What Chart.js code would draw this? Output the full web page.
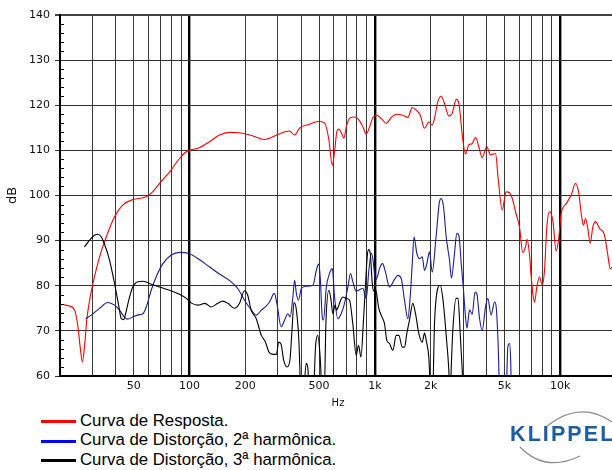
<!DOCTYPE html>
<html>
<head>
<meta charset="utf-8">
<script src="https://cdn.jsdelivr.net/npm/chart.js@4.4.1/dist/chart.umd.min.js"></script>
<style>
  html, body { margin: 0; padding: 0; overflow: hidden; background: #fff; }
  #wrap { position: relative; width: 612px; height: 470px; overflow: hidden; }
  #c { position: absolute; left: 0; top: 0; }
  .lg-line { position: absolute; left: 41px; width: 35px; height: 3px; }
  .lg-text { position: absolute; left: 80px; font-family: "Liberation Sans", Arial, sans-serif; font-size: 16.8px; line-height: 16.5px; color: #000; white-space: nowrap; }
  #logo { position: absolute; left: 510px; top: 424px; font-family: "Liberation Sans", Arial, sans-serif; font-weight: bold; font-size: 21.5px; line-height: 21px; letter-spacing: 2.1px; color: #1f5c9e; white-space: nowrap; }
  #arcs { position: absolute; left: 500px; top: 400px; }
</style>
</head>
<body>
<div id="wrap">
  <canvas id="c" width="620" height="410"></canvas>
  <div class="lg-line" style="top:420px;background:#ff0000"></div>
  <div class="lg-text" style="top:412.5px">Curva de Resposta.</div>
  <div class="lg-line" style="top:439.5px;background:#0000ff"></div>
  <div class="lg-text" style="top:432px">Curva de Distorção, 2ª harmônica.</div>
  <div class="lg-line" style="top:459px;background:#000"></div>
  <div class="lg-text" style="top:451.5px">Curva de Distorção, 3ª harmônica.</div>
  <svg id="arcs" width="112" height="70">
    <path d="M 47 26 Q 80 0 112 22" fill="none" stroke="#8c8c8c" stroke-width="1.2"/>
    <path d="M 20 47 Q 45 73 80 56" fill="none" stroke="#8c8c8c" stroke-width="1.2"/>
  </svg>
  <div id="logo">KLIPPEL</div>
</div>
<script>
// ---- data (Hz, dB) ----
const redHz = [20, 21.4, 22.5, 24.0, 25.0, 25.7, 26.4, 27.1, 27.9, 28.9, 30.7, 32.7, 35.5, 39.4, 43.7, 49.4, 58.4, 63.2, 68.9, 78.0, 88.3, 96.0, 100, 113, 128, 145, 164, 186, 211, 234, 254, 270, 300, 346, 369, 392, 444, 492, 535, 565, 589, 606, 623, 639, 661, 680, 701, 730, 777, 826, 868, 898, 936, 975, 1025, 1082, 1151, 1225, 1304, 1415, 1506, 1591, 1672, 1757, 1853, 1954, 2039, 2098, 2186, 2280, 2375, 2506, 2615, 2748, 2838, 2982, 3083, 3212, 3352, 3491, 3637, 3794, 4017, 4207, 4478, 4620, 4864, 5110, 5325, 5548, 5739, 6031, 6283, 6497, 6636, 6829, 6975, 7115, 7267, 7478, 7733, 7996, 8228, 8466, 8756, 9121, 9513, 9788, 10122, 10772, 11463, 12093, 12598, 12981, 13357, 13694, 14090, 14517, 14993, 15505, 16293, 17338, 18065, 18614, 18916, 19500];
const redDb = [75.9, 75.7, 75.5, 74.6, 70.9, 66.4, 63.1, 66.4, 72.4, 76.8, 82.0, 86.4, 90.8, 95.3, 97.9, 99.1, 99.7, 100.8, 102.7, 105.2, 108.2, 109.7, 110.0, 110.6, 111.9, 113.4, 114.0, 113.9, 113.4, 112.8, 112.4, 112.7, 113.5, 114.3, 113.4, 114.9, 115.8, 116.4, 116.1, 112.3, 106.7, 109.7, 114.1, 114.7, 113.8, 112.7, 115.2, 117.1, 117.4, 116.6, 114.9, 113.6, 115.2, 117.3, 117.8, 117.1, 116.0, 117.3, 118.0, 117.8, 117.3, 119.5, 118.9, 117.8, 114.9, 116.3, 115.6, 117.1, 120.8, 122.0, 120.4, 117.6, 118.2, 121.3, 120.4, 112.3, 109.2, 111.2, 111.5, 112.9, 110.8, 108.4, 110.8, 109.0, 109.3, 104.0, 96.8, 100.8, 100.6, 99.0, 96.4, 93.0, 87.3, 88.6, 90.3, 86.8, 82.0, 78.3, 76.4, 79.7, 82.0, 80.1, 83.4, 93.0, 96.4, 94.5, 87.7, 90.1, 96.0, 98.2, 100.1, 102.7, 100.5, 96.0, 93.4, 94.9, 92.7, 89.4, 93.0, 94.2, 92.7, 91.2, 86.8, 83.8, 84.0, 84.3];

const blueHz = [27.5, 29.5, 32.7, 36.2, 39.4, 41.9, 44.6, 46.5, 49.4, 53.7, 56.0, 58.4, 62.1, 66.1, 71.8, 79.7, 88.3, 100, 113, 128, 145, 164, 182, 198, 215, 229, 244, 259, 270, 287, 296, 312, 326, 339, 349, 361, 369, 377, 387, 401, 426, 463, 483, 497, 507, 520, 528, 547, 569, 589, 606, 631, 658, 686, 715, 739, 760, 793, 861, 898, 928, 956, 975, 1008, 1037, 1059, 1100, 1141, 1199, 1276, 1330, 1387, 1445, 1506, 1551, 1591, 1627, 1684, 1742, 1801, 1853, 1907, 1972, 2039, 2143, 2233, 2280, 2346, 2426, 2527, 2591, 2690, 2768, 2838, 2924, 3008, 3083, 3141, 3240, 3352, 3470, 3548, 3669, 3794, 3954, 4069, 4234, 4422, 4515, 4617, 4733, 5099, 5214, 5325, 5405, 5459];
const blueDb = [72.7, 73.5, 75.0, 76.3, 75.7, 74.6, 73.0, 72.6, 73.1, 73.6, 73.8, 75.3, 79.0, 82.0, 84.9, 86.8, 87.4, 87.1, 85.8, 84.2, 82.6, 81.2, 79.4, 76.8, 74.7, 73.5, 74.6, 75.5, 76.4, 78.3, 76.1, 70.9, 72.4, 73.8, 73.1, 77.5, 81.2, 78.3, 76.8, 79.4, 79.9, 80.1, 83.4, 84.8, 82.0, 73.1, 72.4, 79.7, 82.7, 83.8, 77.5, 72.7, 73.8, 76.1, 79.7, 82.7, 80.9, 78.8, 79.4, 77.2, 83.4, 87.2, 86.0, 81.2, 82.3, 83.8, 84.9, 83.0, 79.7, 81.4, 82.3, 81.6, 76.8, 72.7, 77.5, 84.9, 90.8, 87.2, 86.0, 86.4, 83.4, 84.9, 87.5, 83.0, 91.2, 98.7, 99.3, 97.5, 90.8, 85.7, 81.7, 87.2, 91.6, 91.2, 84.9, 79.0, 73.1, 70.6, 74.6, 73.7, 78.6, 78.3, 72.8, 70.1, 75.3, 77.2, 73.5, 76.4, 75.3, 67.9, 55, 55, 66.4, 67.2, 63.5, 55];

const blackHz = [27.1, 28.9, 30.7, 32.0, 33.4, 35.2, 37.0, 39.4, 41.6, 42.8, 44.1, 45.2, 47.0, 49.4, 52.6, 56.0, 60.8, 68.9, 78.0, 88.3, 96.0, 102, 111, 121, 131, 142, 151, 161, 175, 186, 198, 206, 215, 229, 244, 257, 268, 282, 294, 303, 312, 322, 336, 348, 357, 366, 376, 389, 400, 410, 426, 435, 444, 464, 479, 492, 506, 522, 532, 545, 565, 580, 593, 610, 621, 637, 653, 672, 701, 730, 760, 793, 816, 841, 868, 890, 909, 924, 944, 968, 983, 1008, 1050, 1095, 1127, 1160, 1199, 1250, 1304, 1347, 1405, 1445, 1487, 1538, 1602, 1657, 1727, 1801, 1853, 1892, 1954, 2009, 2046, 2098, 2186, 2252, 2326, 2426, 2506, 2544, 2591, 2634, 2741, 2810, 2887, 2960, 3008];
const blackDb = [88.6, 90.1, 91.2, 91.4, 90.8, 88.6, 85.7, 80.5, 75.3, 72.7, 72.5, 73.8, 76.8, 79.7, 80.9, 81.0, 80.5, 79.7, 79.0, 78.1, 77.2, 76.2, 75.7, 76.1, 75.3, 76.1, 76.6, 76.1, 75.0, 76.1, 78.9, 77.9, 74.6, 72.7, 69.0, 67.5, 65.3, 64.8, 64.8, 67.5, 67.0, 63.5, 62.0, 63.5, 70.1, 76.3, 75.0, 67.9, 55, 55, 62.8, 61.7, 55, 55, 66.8, 69.0, 64.6, 55, 55, 72.4, 79.0, 76.8, 73.8, 75.7, 74.6, 75.5, 76.8, 77.5, 77.2, 76.8, 71.6, 64.6, 66.8, 64.2, 72.4, 80.1, 86.4, 88.0, 87.2, 80.6, 78.8, 79.2, 75.0, 73.0, 71.6, 67.9, 67.2, 65.7, 69.0, 69.0, 66.4, 66.4, 69.4, 72.4, 76.1, 73.8, 69.4, 67.5, 69.5, 67.9, 64.2, 55, 55, 71.7, 79.5, 80.1, 77.2, 69.0, 61.3, 55, 63.5, 70.1, 77.2, 77.2, 69.4, 61.3, 55];

// ---- axes ----
const gridHz = [20, 30, 40, 50, 60, 70, 80, 90, 100, 200, 300, 400, 500, 600, 700, 800, 900, 1000, 2000, 3000, 4000, 5000, 6000, 7000, 8000, 9000, 10000, 20000];
const decadeHz = [100, 1000, 10000];
const xTickValues = [50, 100, 200, 500, 1000, 2000, 5000, 10000];
const xTickLabels = ['50', '100', '200', '500', '1k', '2k', '5k', '10k'];
const yTickValues = [60, 70, 80, 90, 100, 110, 120, 130, 140];

const pts = (xs, ys) => xs.map((x, i) => ({ x: x, y: ys[i] }));

const minorTicks = {
  id: 'minorTicks',
  afterDraw(chart) {
    const { ctx, scales: { y }, chartArea } = chart;
    ctx.save();
    ctx.strokeStyle = '#000';
    ctx.lineWidth = 1;
    for (let v = 62; v < 140; v += 2) {
      if (v % 10 === 0) continue;
      const py = Math.round(y.getPixelForValue(v)) + 0.5;
      ctx.beginPath();
      ctx.moveTo(chartArea.left, py);
      ctx.lineTo(chartArea.left + 4, py);
      ctx.stroke();
    }
    ctx.restore();
  }
};

const tickFont = { family: '"DejaVu Sans", sans-serif', size: 11 };

new Chart(document.getElementById('c'), {
  type: 'line',
  data: {
    datasets: [
      { label: 'Curva de Distorção, 3ª harmônica.', data: pts(blackHz, blackDb), borderColor: '#000000', borderWidth: 1.1, pointRadius: 0, cubicInterpolationMode: 'monotone', fill: false },
      { label: 'Curva de Distorção, 2ª harmônica.', data: pts(blueHz, blueDb), borderColor: '#1c1c9a', borderWidth: 1.1, pointRadius: 0, cubicInterpolationMode: 'monotone', fill: false },
      { label: 'Curva de Resposta.', data: pts(redHz, redDb), borderColor: '#ff0000', borderWidth: 1.1, pointRadius: 0, cubicInterpolationMode: 'monotone', fill: false }
    ]
  },
  options: {
    responsive: false,
    animation: false,
    events: [],
    layout: { padding: { top: 15, right: 4, bottom: 0, left: 0 } },
    plugins: { legend: { display: false }, tooltip: { enabled: false } },
    scales: {
      x: {
        type: 'logarithmic',
        min: 20,
        max: 20000,
        afterBuildTicks: (scale) => { scale.ticks = gridHz.map(v => ({ value: v })); },
        afterFit: (scale) => { scale.height = 34; },
        ticks: {
          autoSkip: false, maxRotation: 0, minRotation: 0, padding: 4,
          color: '#111', font: tickFont,
          callback: (v) => { const i = xTickValues.indexOf(v); return i >= 0 ? xTickLabels[i] : ''; }
        },
        grid: {
          drawTicks: false,
          color: (ctx) => (ctx.tick && decadeHz.includes(ctx.tick.value)) ? '#000' : '#3a3a3a',
          lineWidth: (ctx) => (ctx.tick && decadeHz.includes(ctx.tick.value)) ? 2.4 : 1
        },
        border: { display: true, color: '#000', width: 2 },
        title: { display: true, text: 'Hz', color: '#111', font: { family: '"DejaVu Sans", sans-serif', size: 10 }, padding: { top: 0, bottom: 1 } }
      },
      y: {
        min: 60,
        max: 140,
        afterBuildTicks: (scale) => { scale.ticks = yTickValues.map(v => ({ value: v })); },
        afterFit: (scale) => { scale.width = 60; },
        ticks: { padding: 5, color: '#111', font: tickFont },
        grid: {
          tickLength: 5,
          color: (ctx) => (ctx.tick && ctx.tick.value === 140) ? '#444' : '#333',
          lineWidth: (ctx) => (ctx.tick && ctx.tick.value === 140) ? 2 : 1
        },
        border: { display: true, color: '#000', width: 2 },
        title: { display: true, text: 'dB', color: '#111', font: { family: '"DejaVu Sans", sans-serif', size: 13 }, padding: { top: 5, bottom: 0 } }
      }
    }
  },
  plugins: [minorTicks]
});
</script>
</body>
</html>
